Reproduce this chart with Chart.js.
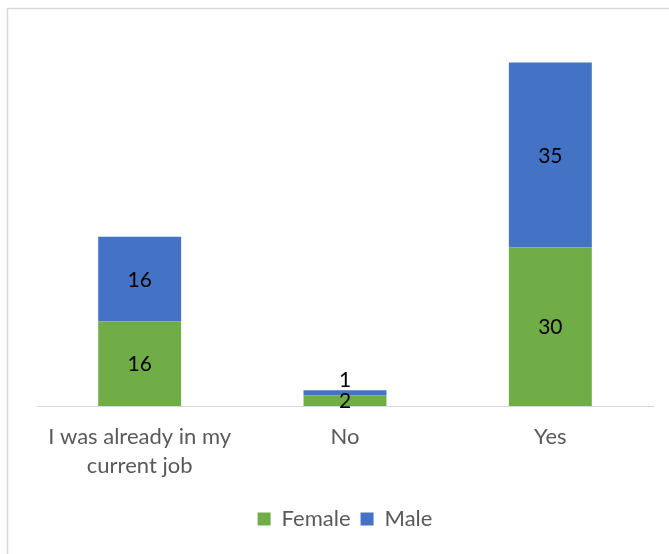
<!DOCTYPE html>
<html>
<head>
<meta charset="utf-8">
<script src="https://cdn.jsdelivr.net/npm/chart.js@4/dist/chart.umd.min.js"></script>
<style>
html,body{margin:0;padding:0;background:#fff;}
canvas{display:block;}
</style>
</head>
<body>
<canvas id="c" width="669" height="554"></canvas>
<script>
const categories = [["I was already in my", "current job"], "No", "Yes"];
const femaleValues = [16, 2, 30];
const maleValues = [16, 1, 35];
const seriesNames = ["Female", "Male"];

const FONT = "Lato, 'Open Sans', sans-serif";

const framePlugin = {
  id: 'frame',
  beforeDraw(chart) {
    const ctx = chart.ctx;
    ctx.save();
    ctx.fillStyle = '#fff';
    ctx.fillRect(0, 0, chart.width, chart.height);
    ctx.strokeStyle = '#d9d9d9';
    ctx.lineWidth = 1.5;
    ctx.strokeRect(7.5, 8.5, 700, 600);
    ctx.restore();
  }
};

const labelPlugin = {
  id: 'segLabels',
  afterDatasetsDraw(chart) {
    const ctx = chart.ctx;
    ctx.save();
    ctx.font = "21px " + FONT;
    ctx.fillStyle = '#000';
    ctx.textAlign = 'center';
    ctx.textBaseline = 'middle';
    const n = chart.data.labels.length;
    for (let i = 0; i < n; i++) {
      let prevY = null;
      chart.data.datasets.forEach((ds, di) => {
        const el = chart.getDatasetMeta(di).data[i];
        let y = (el.y + el.base) / 2;
        if (prevY !== null && prevY - y < 21) y = prevY - 21;
        ctx.fillText(String(ds.data[i]), el.x, y + 1);
        prevY = y;
      });
    }
    ctx.restore();
  }
};

new Chart(document.getElementById('c'), {
  type: 'bar',
  data: {
    labels: categories,
    datasets: [
      { label: seriesNames[0], data: femaleValues, backgroundColor: '#70ad47', borderWidth: 0 },
      { label: seriesNames[1], data: maleValues, backgroundColor: '#4472c4', borderWidth: 0 }
    ]
  },
  options: {
    responsive: false,
    animation: false,
    devicePixelRatio: 1,
    layout: { padding: { left: 37, right: 16, top: 36, bottom: 14 } },
    datasets: { bar: { categoryPercentage: 0.404, barPercentage: 1 } },
    scales: {
      x: {
        stacked: true,
        grid: { display: true, drawOnChartArea: false, drawTicks: false },
        border: { display: true, color: '#d9d9d9', width: 1 },
        ticks: { color: '#595959', font: { family: FONT, size: 22, lineHeight: 1.32 }, padding: 16, maxRotation: 0, autoSkip: false },
        afterFit(s) { s.height = 92; }
      },
      y: {
        stacked: true,
        display: false,
        min: 0,
        max: 70
      }
    },
    plugins: {
      legend: {
        position: 'bottom',
        labels: {
          color: '#595959',
          font: { family: FONT, size: 22 },
          boxWidth: 13,
          boxHeight: 13,
          padding: 10
        }
      },
      tooltip: { enabled: false }
    }
  },
  plugins: [framePlugin, labelPlugin]
});
</script>
</body>
</html>
